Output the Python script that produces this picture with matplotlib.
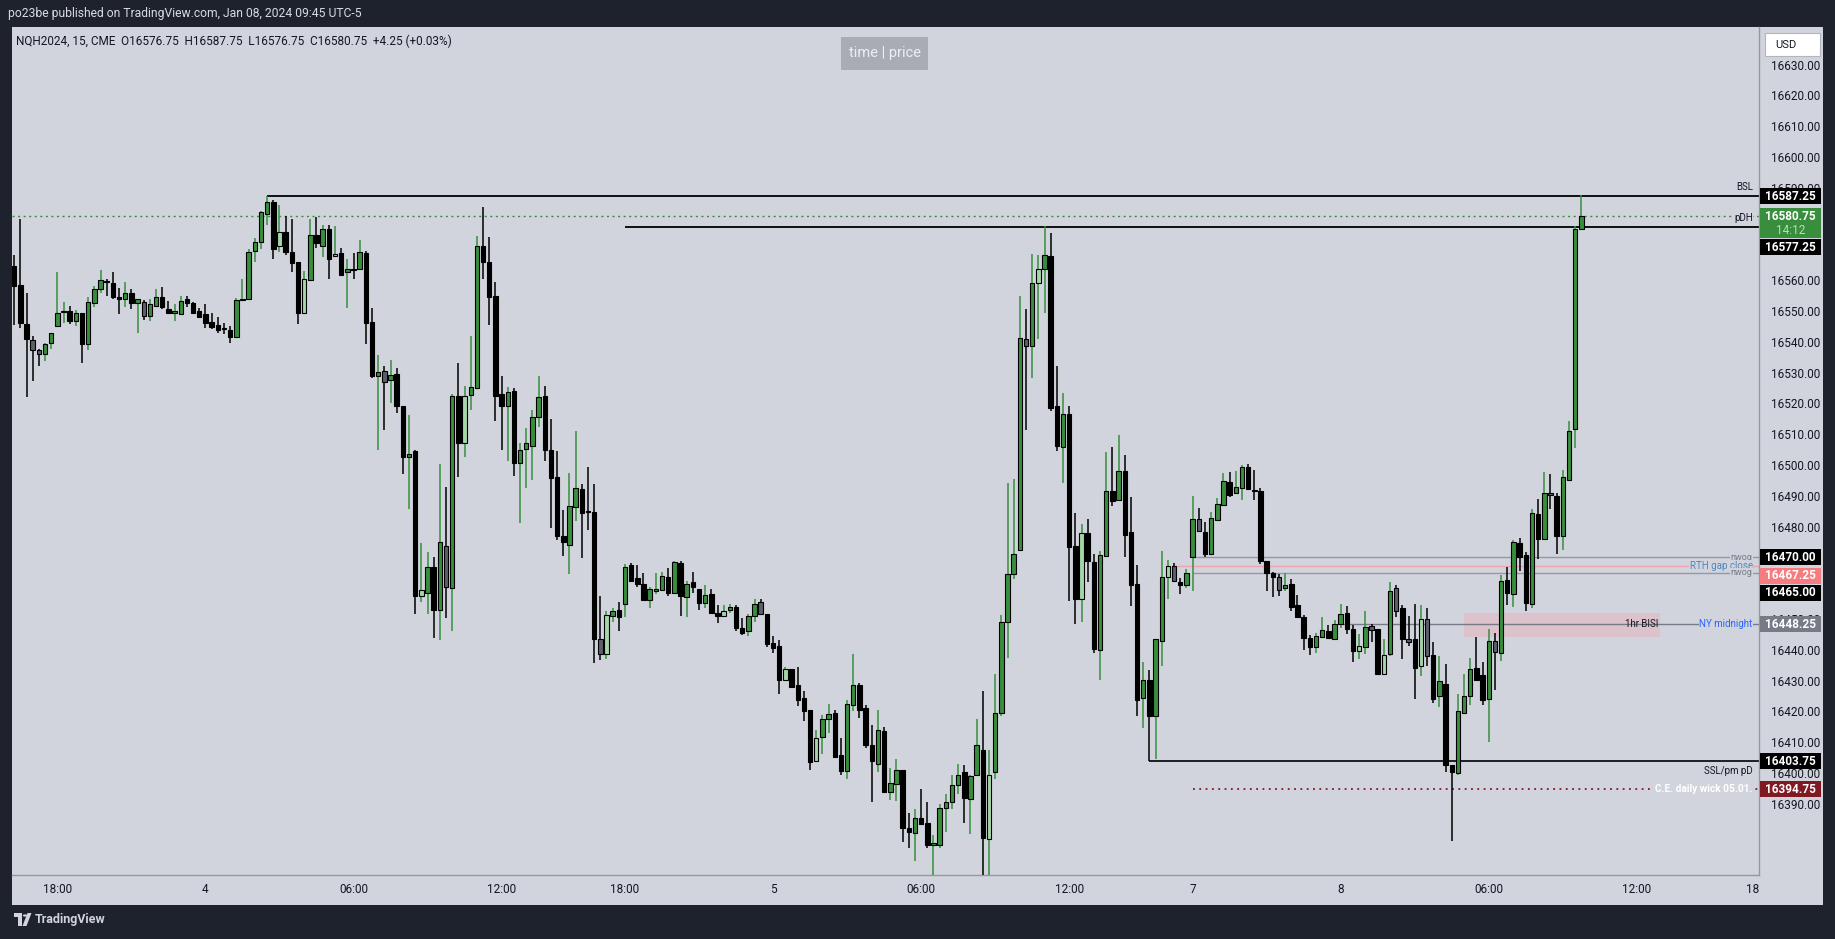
import matplotlib
matplotlib.use("Agg")
import matplotlib.pyplot as plt
import matplotlib.transforms as mtransforms
from matplotlib.patches import Rectangle, Polygon, Circle
import numpy as np

plt.rcParams['font.family'] = ['Roboto', 'DejaVu Sans']

# NQH2024 15-minute candles, Jan 3 15:15 -> Jan 8 09:45
opens = [
    16564.5, 16558.5, 16545.75, 16540.5, 16537.5, 16536.0, 16539.5, 16545.0, 16549.75, 16550.0,
    16546.75, 16549.25, 16539.25, 16552.5, 16557.0, 16559.75, 16559.25, 16554.5, 16553.75, 16556.0,
    16552.75, 16553.0, 16548.25, 16551.75, 16554.5, 16550.5, 16549.5, 16549.0, 16554.0, 16552.5,
    16550.0, 16549.0, 16546.5, 16545.5, 16544.25, 16543.75, 16541.5, 16553.5, 16554.0, 16569.5,
    16572.25, 16581.5, 16585.5, 16571.0, 16575.5, 16569.0, 16565.75, 16549.5, 16560.0, 16574.75,
    16571.25, 16576.75, 16567.75, 16568.75, 16562.5, 16563.5, 16563.5, 16568.75, 16546.5, 16528.75,
    16530.5, 16527.5, 16529.5, 16519.0, 16502.5, 16504.5, 16457.5, 16458.5, 16466.75, 16453.0,
    16473.75, 16460.0, 16522.25, 16507.0, 16522.75, 16525.0, 16571.0, 16565.75, 16554.75, 16523.0,
    16519.0, 16524.0, 16500.5, 16505.25, 16506.25, 16515.75, 16522.5, 16505.0, 16496.0, 16477.0,
    16474.0, 16486.5, 16492.25, 16485.0, 16484.75, 16443.5, 16438.75, 16451.0, 16453.0, 16454.75,
    16467.5, 16463.25, 16461.25, 16456.25, 16459.0, 16459.5, 16463.75, 16458.5, 16468.25, 16457.0,
    16462.0, 16459.75, 16455.25, 16458.25, 16452.0, 16451.0, 16453.0, 16453.75, 16447.0, 16446.25,
    16451.0, 16455.5, 16451.5, 16442.25, 16441.25, 16430.25, 16433.75, 16428.5, 16424.5, 16420.5,
    16404.0, 16411.75, 16417.5, 16419.5, 16406.0, 16400.75, 16422.25, 16428.5, 16421.0, 16409.0,
    16403.0, 16413.75, 16394.0, 16396.5, 16401.0, 16382.0, 16380.5, 16385.5, 16383.75, 16376.75,
    16376.75, 16388.5, 16390.75, 16396.0, 16400.25, 16391.5, 16399.25, 16407.5, 16378.5, 16400.25,
    16419.5, 16449.0, 16464.5, 16472.5, 16541.0, 16538.5, 16559.25, 16563.5, 16567.75, 16519.25,
    16506.0, 16516.5, 16473.75, 16456.5, 16478.0, 16468.5, 16440.0, 16470.5, 16491.5, 16488.5,
    16498.0, 16478.25, 16461.25, 16424.5, 16430.25, 16418.5, 16443.0, 16463.75, 16467.25, 16462.0,
    16461.0, 16470.0, 16482.5, 16478.25, 16471.25, 16482.25, 16487.0, 16494.5, 16491.0, 16492.5,
    16499.25, 16492.0, 16491.5, 16469.0, 16465.0, 16463.5, 16460.0, 16461.5, 16454.5, 16450.75,
    16443.75, 16441.0, 16444.25, 16446.0, 16443.5, 16448.25, 16452.0, 16446.75, 16439.75, 16441.0,
    16447.75, 16446.75, 16432.25, 16438.75, 16460.0, 16453.5, 16443.5, 16443.5, 16434.75, 16450.0,
    16438.25, 16425.0, 16429.0, 16402.5, 16400.0, 16419.5, 16425.0, 16434.0, 16431.75, 16424.0,
    16442.75, 16439.0, 16462.75, 16458.25, 16474.75, 16470.75, 16455.0, 16484.0, 16476.0, 16491.0,
    16490.0, 16477.0, 16495.0, 16511.75, 16576.75,
]
highs = [
    16568.25, 16580.0, 16556.0, 16541.75, 16537.75, 16539.5, 16542.75, 16562.5, 16553.0, 16551.5,
    16550.25, 16549.25, 16554.5, 16558.25, 16563.25, 16560.5, 16562.5, 16557.5, 16559.5, 16557.0,
    16554.0, 16553.5, 16553.75, 16557.0, 16557.75, 16553.25, 16552.25, 16554.75, 16555.0, 16553.0,
    16551.0, 16552.25, 16549.5, 16548.0, 16546.0, 16545.0, 16554.25, 16560.25, 16570.25, 16573.75,
    16582.5, 16587.25, 16586.0, 16584.5, 16581.0, 16580.0, 16566.0, 16563.0, 16580.0, 16580.5,
    16578.0, 16578.0, 16577.75, 16570.5, 16566.75, 16568.75, 16573.0, 16569.5, 16551.0, 16535.75,
    16532.0, 16534.0, 16531.5, 16519.0, 16516.25, 16505.0, 16474.75, 16471.75, 16470.25, 16500.25,
    16492.75, 16523.0, 16533.0, 16525.5, 16542.0, 16574.5, 16583.75, 16574.0, 16559.5, 16529.0,
    16525.25, 16525.0, 16507.0, 16512.0, 16518.0, 16529.0, 16525.75, 16515.0, 16504.5, 16485.5,
    16497.5, 16511.0, 16493.75, 16499.25, 16493.75, 16457.5, 16452.5, 16453.5, 16455.5, 16468.0,
    16468.25, 16467.5, 16465.0, 16460.25, 16465.0, 16465.25, 16466.5, 16469.0, 16469.0, 16462.25,
    16465.25, 16459.75, 16461.0, 16459.75, 16454.5, 16454.5, 16454.75, 16454.5, 16450.25, 16451.75,
    16456.5, 16456.5, 16451.5, 16444.5, 16443.25, 16434.5, 16433.75, 16434.5, 16426.5, 16420.5,
    16414.0, 16418.75, 16422.5, 16420.5, 16411.25, 16423.75, 16438.5, 16429.25, 16422.25, 16415.75,
    16420.5, 16415.0, 16401.5, 16404.5, 16401.0, 16387.0, 16388.25, 16394.75, 16390.5, 16380.0,
    16390.0, 16393.25, 16399.5, 16403.0, 16402.75, 16399.5, 16417.5, 16426.5, 16407.5, 16432.0,
    16451.25, 16494.0, 16495.5, 16555.0, 16550.5, 16568.5, 16568.25, 16577.5, 16575.25, 16532.0,
    16523.5, 16519.0, 16484.5, 16480.75, 16482.5, 16471.25, 16472.0, 16504.25, 16506.0, 16509.75,
    16503.25, 16489.5, 16467.5, 16436.0, 16433.5, 16443.5, 16472.0, 16469.25, 16468.25, 16463.25,
    16466.25, 16490.0, 16486.0, 16481.5, 16484.75, 16489.25, 16497.5, 16497.75, 16498.0, 16500.0,
    16500.25, 16498.25, 16492.5, 16469.0, 16465.25, 16464.5, 16465.0, 16463.0, 16457.75, 16451.25,
    16444.75, 16445.5, 16450.5, 16448.0, 16449.75, 16454.75, 16454.25, 16448.0, 16445.0, 16452.75,
    16448.25, 16446.75, 16443.5, 16462.0, 16461.0, 16454.5, 16451.0, 16454.75, 16454.5, 16453.5,
    16442.5, 16438.0, 16435.5, 16402.5, 16425.75, 16432.0, 16437.25, 16444.25, 16436.0, 16446.75,
    16445.5, 16464.25, 16467.0, 16475.5, 16476.25, 16471.75, 16485.75, 16489.0, 16497.75, 16497.0,
    16491.0, 16498.25, 16514.25, 16577.75, 16587.75,
]
lows = [
    16545.5, 16544.5, 16522.0, 16527.25, 16532.0, 16533.75, 16537.75, 16544.75, 16546.0, 16545.75,
    16545.0, 16533.0, 16537.5, 16551.25, 16556.0, 16555.0, 16553.75, 16549.0, 16551.25, 16550.5,
    16542.75, 16547.0, 16546.75, 16551.75, 16550.5, 16549.0, 16546.75, 16549.0, 16551.25, 16549.5,
    16548.0, 16544.5, 16544.25, 16542.75, 16542.5, 16539.5, 16541.5, 16553.5, 16554.0, 16566.0,
    16570.0, 16578.0, 16566.75, 16569.0, 16568.25, 16562.75, 16545.75, 16549.0, 16559.75, 16570.5,
    16567.5, 16560.25, 16567.5, 16561.75, 16551.0, 16560.25, 16563.5, 16539.25, 16528.25, 16504.75,
    16511.25, 16520.0, 16516.75, 16497.0, 16485.75, 16451.5, 16455.5, 16451.5, 16444.0, 16443.25,
    16450.25, 16446.0, 16496.25, 16502.75, 16518.0, 16525.0, 16560.5, 16545.5, 16514.25, 16505.0,
    16501.25, 16496.5, 16481.25, 16492.5, 16495.0, 16512.5, 16501.25, 16479.5, 16475.5, 16470.5,
    16464.5, 16481.75, 16469.75, 16478.75, 16435.75, 16436.75, 16437.0, 16449.0, 16446.25, 16450.5,
    16462.5, 16460.5, 16456.0, 16453.5, 16458.25, 16459.5, 16457.5, 16458.5, 16451.0, 16450.5,
    16458.5, 16453.0, 16453.5, 16452.0, 16448.75, 16451.0, 16452.0, 16446.0, 16444.75, 16444.5,
    16449.0, 16451.25, 16441.0, 16439.0, 16425.75, 16430.25, 16427.75, 16421.75, 16416.75, 16401.0,
    16403.5, 16406.25, 16413.0, 16405.25, 16399.25, 16398.0, 16420.25, 16418.0, 16408.25, 16390.75,
    16400.25, 16393.5, 16391.25, 16391.0, 16377.75, 16375.75, 16371.5, 16383.5, 16375.75, 16367.0,
    16375.75, 16381.0, 16388.25, 16393.25, 16383.75, 16380.25, 16399.0, 16366.0, 16366.5, 16398.0,
    16418.5, 16437.25, 16463.0, 16472.5, 16511.25, 16528.25, 16541.0, 16549.5, 16517.5, 16504.5,
    16494.0, 16456.0, 16448.5, 16449.0, 16462.0, 16439.0, 16430.25, 16470.5, 16486.75, 16488.5,
    16470.0, 16454.25, 16418.5, 16414.5, 16403.75, 16404.5, 16434.75, 16456.5, 16462.0, 16458.25,
    16460.0, 16459.0, 16478.5, 16470.0, 16471.25, 16482.25, 16487.0, 16489.5, 16491.0, 16488.5,
    16492.25, 16488.75, 16468.0, 16459.0, 16457.0, 16457.5, 16459.0, 16452.5, 16450.75, 16440.0,
    16438.25, 16439.0, 16444.25, 16443.75, 16443.5, 16447.0, 16445.0, 16436.0, 16437.0, 16438.5,
    16442.5, 16432.0, 16432.25, 16438.0, 16450.5, 16437.0, 16441.25, 16424.0, 16431.5, 16434.75,
    16422.75, 16421.5, 16400.25, 16378.0, 16399.25, 16419.5, 16422.0, 16430.0, 16422.0, 16410.0,
    16427.0, 16436.5, 16454.5, 16453.75, 16465.5, 16452.5, 16453.5, 16469.5, 16476.0, 16485.75,
    16471.0, 16472.25, 16495.0, 16505.5, 16576.75,
]
closes = [
    16558.25, 16546.0, 16540.75, 16537.5, 16536.0, 16539.25, 16542.75, 16549.5, 16550.0, 16546.75,
    16549.5, 16539.25, 16553.0, 16557.0, 16560.0, 16559.5, 16554.5, 16553.75, 16555.75, 16552.5,
    16553.75, 16548.25, 16552.25, 16554.5, 16551.25, 16549.25, 16549.75, 16553.25, 16552.5, 16549.5,
    16548.0, 16546.0, 16544.75, 16543.75, 16544.0, 16541.5, 16553.5, 16553.75, 16569.0, 16572.25,
    16582.0, 16585.25, 16570.25, 16575.5, 16569.0, 16565.5, 16549.5, 16560.5, 16574.75, 16572.0,
    16576.75, 16567.0, 16568.5, 16561.75, 16563.75, 16563.25, 16569.0, 16546.0, 16529.0, 16530.25,
    16527.0, 16529.25, 16519.0, 16502.75, 16503.5, 16457.5, 16459.5, 16467.0, 16453.0, 16475.0,
    16460.5, 16522.25, 16507.25, 16522.25, 16525.25, 16571.25, 16566.0, 16554.5, 16522.5, 16519.0,
    16523.75, 16500.75, 16504.75, 16507.0, 16515.5, 16522.0, 16504.75, 16495.75, 16477.0, 16475.0,
    16486.75, 16492.5, 16484.5, 16484.75, 16443.5, 16438.5, 16451.25, 16452.5, 16450.5, 16466.75,
    16462.5, 16461.25, 16456.25, 16459.75, 16459.75, 16464.0, 16458.5, 16468.5, 16457.5, 16461.5,
    16460.25, 16455.25, 16457.75, 16452.0, 16451.0, 16452.5, 16454.0, 16447.0, 16445.5, 16451.0,
    16455.0, 16451.5, 16442.0, 16440.75, 16430.25, 16433.75, 16428.0, 16423.75, 16420.25, 16403.5,
    16411.5, 16417.5, 16419.25, 16405.25, 16400.75, 16422.5, 16428.5, 16420.5, 16409.0, 16403.75,
    16414.0, 16393.75, 16396.75, 16401.0, 16382.25, 16381.0, 16385.5, 16383.5, 16376.5, 16377.25,
    16388.5, 16390.75, 16396.25, 16399.5, 16392.0, 16399.0, 16409.0, 16378.75, 16399.5, 16419.5,
    16449.0, 16464.5, 16471.25, 16541.25, 16538.75, 16559.25, 16563.5, 16568.25, 16518.5, 16506.25,
    16516.5, 16473.5, 16456.5, 16478.0, 16469.0, 16440.25, 16470.75, 16491.5, 16488.25, 16498.0,
    16477.25, 16461.0, 16423.75, 16430.25, 16418.5, 16443.5, 16463.75, 16467.25, 16462.25, 16461.0,
    16465.0, 16482.5, 16478.5, 16471.25, 16482.75, 16487.5, 16494.75, 16490.25, 16493.0, 16499.5,
    16492.25, 16491.5, 16469.0, 16465.0, 16463.5, 16459.5, 16461.0, 16454.0, 16450.75, 16443.75,
    16441.0, 16444.5, 16446.5, 16443.75, 16448.25, 16451.5, 16446.75, 16439.75, 16441.25, 16447.25,
    16446.5, 16432.0, 16438.25, 16459.0, 16452.75, 16443.5, 16442.5, 16434.25, 16450.0, 16438.0,
    16424.0, 16430.0, 16402.5, 16400.25, 16420.0, 16425.0, 16433.75, 16430.25, 16423.75, 16443.0,
    16439.25, 16462.5, 16458.5, 16475.0, 16470.25, 16455.25, 16484.5, 16476.0, 16491.0, 16490.25,
    16477.0, 16496.0, 16511.0, 16576.5, 16580.75,
]

# time axis (candle index of each label)
time_ticks = [7, 31, 55, 79, 99, 123, 147, 171, 191, 215, 239, 263, 283]
time_labels = ["18:00", "4", "06:00", "12:00", "18:00", "5", "06:00", "12:00",
               "7", "8", "06:00", "12:00", "18:00"]
# price scale labels (those hidden behind tags are left out)
price_ticks = [16390, 16400, 16410, 16420, 16430, 16440, 16450, 16480, 16490, 16500,
               16510, 16520, 16530, 16540, 16550, 16560, 16590, 16600, 16610, 16620, 16630]

# drawn levels: (price, first candle index)
bsl, bsl_from = 16587.25, 41
pdh, pdh_from = 16577.25, 99
last_price = 16580.75
nwog_hi, nwog_lo, nwog_from = 16470.0, 16465.0, 191
rth_close, rth_from = 16467.25, 188
ny_midnight, ny_from = 16448.25, 215
ssl, ssl_from = 16403.75, 184
ce_wick, ce_from = 16394.75, 191
bisi_lo, bisi_hi, bisi_from, bisi_to = 16444.25, 16452.0, 235, 266.8

# ---------------------------------------------------------------
W, H = 1835, 939
BG = '#d1d4dc'
DARK = '#1e222d'
TXT = '#131722'

def fx(px):
    return px / W

def fy(py):
    return 1 - py / H

fig = plt.figure(figsize=(W / 100, H / 100), dpi=100)
fig.patch.set_facecolor(DARK)
fig.add_artist(Rectangle((fx(11.7), fy(905)), (1823 - 11.7) / W, (905 - 27) / H,
                         transform=fig.transFigure, fc=BG, ec='none', zorder=-5))

ax = fig.add_axes([fx(11.7), fy(875), (1759 - 11.7) / W, (875 - 27) / H])
ax.set_facecolor(BG)
xmin, xmax = -0.4, 282.8
ymin, ymax = 16366.9, 16642.2
ax.set_xlim(xmin, xmax)
ax.set_ylim(ymin, ymax)
PX = (875 - 27) / (ymax - ymin)   # pixels per price point

for s in ['left', 'top']:
    ax.spines[s].set_visible(False)
for s in ['right', 'bottom']:
    ax.spines[s].set_color('#9598a1')
    ax.spines[s].set_linewidth(1)

ax.yaxis.tick_right()
ax.set_yticks(price_ticks)
ax.set_yticklabels([f"{p:.2f}" for p in price_ticks])
ax.tick_params(axis='y', length=0, pad=8.5, labelsize=8.5, labelcolor=TXT)
ax.set_xticks([])

# candles
o = np.array(opens); h = np.array(highs); l = np.array(lows); c = np.array(closes)
idx = np.arange(len(o))
bull = c >= o
inside = np.zeros(len(o), dtype=bool)
inside[1:] = (h[1:] <= h[:-1]) & (l[1:] >= l[:-1])
body_col = np.where(bull, np.where(inside, '#a5d6a7', '#388e3c'),
                    np.where(inside, '#5d606b', '#000000'))
wick_col = np.where(bull, '#388e3c', '#000000')
ax.vlines(idx, l, h, colors=wick_col, lw=1.1, zorder=3)
ax.bar(idx, np.maximum(np.abs(c - o), 0.35), bottom=np.minimum(o, c), width=0.72,
       color=body_col, edgecolor='#000000', linewidth=0.8, zorder=4)

# levels
ax.add_patch(Rectangle((bisi_from, bisi_lo), bisi_to - bisi_from, bisi_hi - bisi_lo,
                       fc='#dcc3cb', ec='none', zorder=1))
ax.axhline(last_price, color='#388e3c', lw=1, ls=(0, (1.5, 2.5)), zorder=2)
ax.hlines(bsl, bsl_from, xmax, color='#000000', lw=1.3, zorder=2)
ax.hlines(pdh, pdh_from, xmax, color='#000000', lw=1.3, zorder=2)
ax.hlines([nwog_hi, nwog_lo], nwog_from, xmax, color='#9598a1', lw=1, zorder=2)
ax.hlines(rth_close, rth_from, xmax, color='#f0a3aa', lw=1, zorder=2)
ax.hlines(ny_midnight, ny_from, xmax, color='#787b86', lw=1, zorder=2)
ax.hlines(ssl, ssl_from, xmax, color='#000000', lw=1.2, zorder=2)
ax.hlines(ce_wick, ce_from, xmax, color='#801922', lw=1.3, ls=(0, (1, 2.5)), zorder=2)

lab_x = (1752.7 - 11.7) / (1759 - 11.7)
lab_tr = mtransforms.blended_transform_factory(ax.transAxes, ax.transData)
mask = dict(boxstyle='square,pad=0.08', fc=BG, ec='none')

def level_text(y, s, color, dy_px=0, masked=True, weight='normal', size=7):
    ax.text(lab_x, y + dy_px / PX, s, transform=lab_tr, ha='right', va='center',
            fontsize=size, color=color, fontweight=weight,
            bbox=mask if masked else None, zorder=6)

level_text(bsl, "BSL", TXT, dy_px=9, masked=False)
level_text(pdh, "pDH", TXT, dy_px=9)
level_text(nwog_hi, "nwog", '#787b86', size=6.5)
level_text(rth_close, "RTH gap close", '#4f86bd')
level_text(nwog_lo, "nwog", '#787b86', size=6.5)
level_text(ny_midnight, "NY midnight", '#2962ff')
level_text(ssl, "SSL/pm pD", TXT, dy_px=-9.5, masked=False)
level_text(ce_wick, "C.E. daily wick 05.01.", '#ffffff', weight='bold', size=7.3)
ax.text(bisi_to - 0.3, ny_midnight, "1hr BISI", ha='right', va='center', fontsize=7,
        color=TXT, zorder=6)

# price-scale tags
tag_tr = mtransforms.blended_transform_factory(fig.transFigure, ax.transData)

def price_tag(price, s, fc, shift_px=0.0, rows=1):
    yc = price - shift_px / PX
    top = yc + 8 / PX
    hgt = (16 + 14 * (rows - 1)) / PX
    ax.add_patch(Rectangle((fx(1759.5), top - hgt), (1821 - 1759.5) / W, hgt,
                           transform=tag_tr, fc=fc, ec='none', clip_on=False, zorder=10))
    ax.text(fx(1790.5), yc, s, transform=tag_tr, ha='center', va='center',
            fontsize=8.5, fontweight='bold', color='white', clip_on=False, zorder=11)

price_tag(bsl, f"{bsl:.2f}", '#000000')
price_tag(last_price, f"{last_price:.2f}", '#388e3c', rows=2)
ax.text(fx(1790.5), last_price - 13.8 / PX, "14:12", transform=tag_tr, ha='center',
        va='center', fontsize=8.5, color='#b7dfb9', clip_on=False, zorder=11)
price_tag(pdh, f"{pdh:.2f}", '#000000', shift_px=20.2)
price_tag(nwog_hi, f"{nwog_hi:.2f}", '#000000')
price_tag(rth_close, f"{rth_close:.2f}", '#f77c80', shift_px=9.8)
price_tag(nwog_lo, f"{nwog_lo:.2f}", '#000000', shift_px=19.8)
price_tag(ny_midnight, f"{ny_midnight:.2f}", '#787b86')
price_tag(ssl, f"{ssl:.2f}", '#000000')
price_tag(ce_wick, f"{ce_wick:.2f}", '#801922')

# time axis labels, clipped at the price scale
time_tr = mtransforms.blended_transform_factory(ax.transData, fig.transFigure)
clip = mtransforms.TransformedBbox(mtransforms.Bbox([[0, 0], [fx(1759), 1]]), fig.transFigure)
for t, s in zip(time_ticks, time_labels):
    tt = fig.text(t, fy(889.5), s, transform=time_tr, ha='center', va='center',
                  fontsize=8.5, color=TXT)
    tt.set_clip_box(clip)
    tt.set_clip_on(True)

# header / legend texts
fig.text(fx(8), fy(14), "po23be published on TradingView.com, Jan 08, 2024 09:45 UTC-5",
         fontsize=8.7, color='#d8dbe2', va='center', ha='left')
fig.text(fx(16), fy(41.5),
         "NQH2024, 15, CME  O16576.75  H16587.75  L16576.75  C16580.75  +4.25 (+0.03%)",
         fontsize=8.5, color=TXT, va='center', ha='left')
fig.add_artist(Rectangle((fx(841), fy(70)), (928 - 841) / W, (70 - 37) / H,
                         transform=fig.transFigure, fc='#a9acb5', ec='none'))
fig.text(fx(884.5), fy(53.5), "time | price", fontsize=10.5, color='#eceef2',
         ha='center', va='center')
fig.add_artist(Rectangle((fx(1765), fy(56)), (1820 - 1765) / W, (56 - 33) / H,
                         transform=fig.transFigure, fc='#ffffff', ec='#b2b5be', lw=0.8))
fig.text(fx(1775), fy(44.5), "USD", fontsize=8, color=TXT, ha='left', va='center')

# footer logo + name
fig.add_artist(Polygon([(fx(14), fy(913)), (fx(22), fy(913)), (fx(22), fy(926)),
                        (fx(18), fy(926)), (fx(18), fy(917)), (fx(14), fy(917))],
                       closed=True, transform=fig.transFigure, fc='#d1d4dc', ec='none'))
fig.add_artist(Circle((fx(25), fy(915.5)), 2.2 / W, transform=fig.transFigure,
                      fc='#d1d4dc', ec='none'))
fig.add_artist(Polygon([(fx(27.5), fy(913)), (fx(31.5), fy(913)), (fx(26.5), fy(926)),
                        (fx(22.5), fy(926))], closed=True, transform=fig.transFigure,
                       fc='#d1d4dc', ec='none'))
fig.text(fx(35), fy(920), "TradingView", fontsize=9, color='#d1d4dc',
         fontweight='bold', ha='left', va='center')

fig.savefig("out.png", dpi=100, facecolor=fig.get_facecolor())
